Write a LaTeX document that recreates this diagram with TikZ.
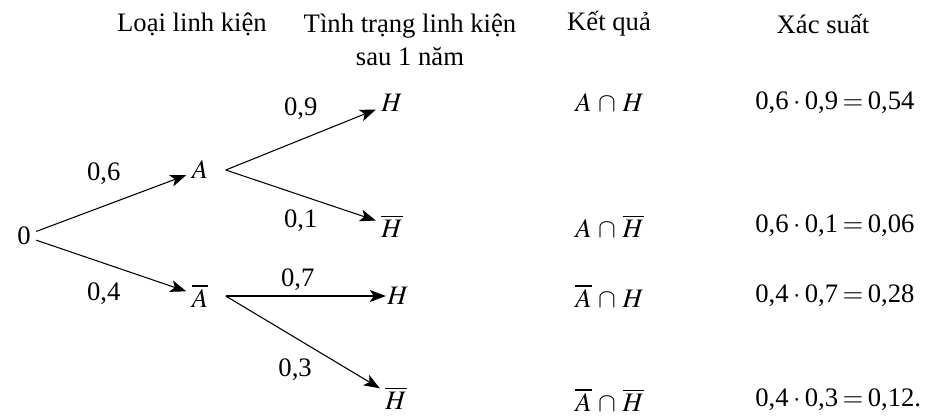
\documentclass[tikz,border=0pt]{standalone}
\usepackage{mathptmx}
\usepackage{fontspec}
\setmainfont{Liberation Serif}
\usetikzlibrary{arrows.meta}

\begin{document}
\begin{tikzpicture}[x=0.75pt, y=-0.75pt, font=\fontsize{20}{25}\selectfont,
	ev/.style={inner sep=4pt},
	br/.style={-{Stealth[length=12pt, width=9pt, inset=3pt]}, thick},
	res/.style={anchor=west, inner sep=0pt}]
	\useasboundingbox (0,0) rectangle (947,419);
	% headers
	\node (h1) at (192,24) {Loại linh kiện};
	\node (h2) [align=center] at (410,40) {Tình trạng linh kiện\\sau 1 năm};
	\node (h3) at (609,24) {Kết quả};
	\node (h4) at (823,24) {Xác suất};
	% tree
	\node (O) [ev] at (24,236) {0};
	\node (A) [ev] at (200,170) {$A$};
	\node (Ab) [ev] at (200,296) {$\overline{A}$};
	\node (H1) [ev] at (392,103) {$H$};
	\node (H2) [ev] at (392,226) {$\overline{H}$};
	\node (H3) [ev, inner sep=1pt] at (398,296) {$H$};
	\node (H4) [ev] at (396,398) {$\overline{H}$};
	\draw[br] (O) to node [pos=.45, yshift=24pt] {0,6} (A);
	\draw[br] (O) to node [pos=.45, yshift=-23pt] {0,4} (Ab);
	\draw[br] ([xshift=9pt]A.east) to node [pos=.5, yshift=23pt] {0,9} (H1);
	\draw[br] ([xshift=9pt]A.east) to node [pos=.5, yshift=-19pt] {0,1} (H2);
	\draw[br] ([xshift=9pt]Ab.east) to node [pos=.45, yshift=12pt] {0,7} (H3);
	\draw[br] ([xshift=9pt]Ab.east) to node [pos=.45, yshift=-24pt] {0,3} (H4);
	% outcomes
	\node (r1) [res] at (575,103) {$A\,\cap\,H$};
	\node (r2) [res] at (575,226) {$A\,\cap\,\overline{H}$};
	\node (r3) [res] at (575,296) {$\overline{A}\,\cap\,H$};
	\node (r4) [res] at (575,400) {$\overline{A}\,\cap\,\overline{H}$};
	\node (p1) [res] at (755,103) {0,6\,$\cdot$\,0,9\,$=$\,0,54};
	\node (p2) [res] at (755,226) {0,6\,$\cdot$\,0,1\,$=$\,0,06};
	\node (p3) [res] at (755,296) {0,4\,$\cdot$\,0,7\,$=$\,0,28};
	\node (p4) [res] at (755,400) {0,4\,$\cdot$\,0,3\,$=$\,0,12.};
\end{tikzpicture}
\end{document}
